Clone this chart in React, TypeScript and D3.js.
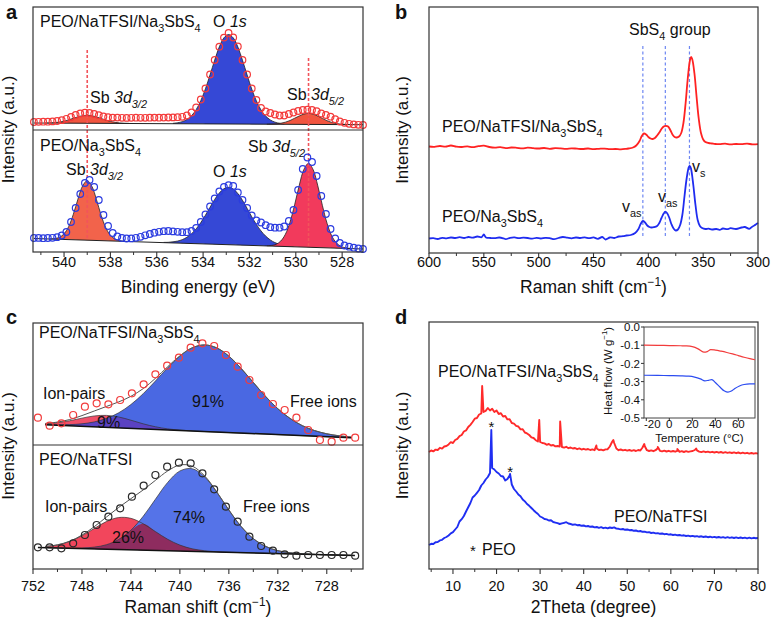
import React from 'react';
import * as d3 from 'd3';

const FONT = "'Liberation Sans', Arial, Helvetica, sans-serif";
type P = [number, number];

// ---------------- Panel a (XPS) ----------------
const aTickLabels = [540, 538, 536, 534, 532, 530, 528];
const aCircleStart = 541.3;
const aCircleStep = -0.2;
const aTopCircles = [
  8.0, 8.2, 8.3, 8.3, 8.6, 9.0, 9.8, 11.2, 13.0, 15.0,
  16.5, 17.3, 17.0, 16.0, 14.8, 13.6, 12.8, 12.4, 12.4, 12.2,
  12.1, 12.2, 12.3, 12.2, 12.2, 12.3, 12.4, 12.3, 12.4, 12.5,
  12.6, 12.8, 13.2, 14.5, 17.5, 22.5, 30.5, 41.5, 55.5, 70.0,
  83.3, 92.4, 97.0, 92.5, 83.5, 70.0, 55.5, 41.5, 30.0, 22.0,
  18.5, 17.0, 15.5, 14.5, 14.5, 16.0, 17.5, 19.0, 20.0, 20.3,
  20.0, 18.8, 16.5, 15.0, 13.3, 10.8, 8.5, 7.2, 6.2, 5.6,
  5.2, 5.0];
const aBotCircles = [
  14.0, 14.1, 13.8, 14.0, 14.2, 14.8, 16.5, 20.0, 30.0, 44.0,
  58.0, 69.0, 72.0, 65.0, 52.0, 37.0, 26.0, 19.0, 15.5, 14.0,
  13.5, 13.6, 14.2, 15.2, 16.7, 18.0, 19.3, 20.2, 20.8, 21.0,
  20.6, 20.2, 19.8, 19.8, 21.0, 24.0, 30.0, 37.5, 45.5, 53.5,
  60.5, 65.0, 66.8, 66.0, 59.5, 52.0, 44.0, 36.5, 31.5, 29.5,
  26.8, 24.8, 24.3, 24.3, 25.5, 31.0, 42.0, 62.0, 83.0, 94.5,
  90.0, 76.0, 56.0, 38.0, 23.0, 13.5, 9.0, 6.5, 5.3, 4.3,
  3.5, 3.0];
const aTopBaseline: P[] = [[541.3, 7.0], [527.1, 5.3]];
const aBotBaseline: P[] = [[541.3, 13.5], [527.1, 3.0]];
// fitted components (height above baseline), 0.2 eV step
const aTopSb32 = [0.1, 0.2, 0.5, 1.1, 2.0, 3.3, 4.9, 6.4, 7.6, 8.0, 7.6, 6.4, 4.9, 3.3, 2.0, 1.1, 0.5, 0.2, 0.1];
const aTopO1s = [0.4, 1.0, 2.1, 4.3, 8.1, 14.2, 23.2, 35.0, 49.1, 63.8, 77.1, 86.2, 89.5, 86.2, 77.1, 63.8, 49.1, 35.0, 23.2, 14.2, 8.1, 4.3, 2.1, 1.0, 0.4];
const aTopSb52 = [0.05, 0.2, 0.4, 1.0, 2.1, 3.8, 6.1, 8.4, 10.3, 11.0, 10.3, 8.4, 6.1, 3.8, 2.1, 1.0, 0.4, 0.2, 0.05];
const aBotSb32 = [0.1, 0.6, 2.0, 5.6, 13.1, 25.4, 40.8, 54.1, 59.5, 54.1, 40.8, 25.4, 13.1, 5.6, 2.0, 0.6, 0.1];
const aBotO1s = [0.25, 0.5, 1.1, 2.0, 3.6, 6.1, 9.8, 14.8, 21.2, 28.7, 36.9, 44.8, 51.4, 55.9, 57.4, 55.9, 51.4, 44.8, 36.9, 28.7, 21.2, 14.8, 9.8, 6.1, 3.6, 2.0, 1.1, 0.5, 0.25];
const aBotSb52 = [0.2, 0.6, 1.9, 5.3, 12.2, 24.5, 42.0, 61.7, 77.7, 83.9, 77.7, 61.7, 42.0, 24.5, 12.2, 5.3, 1.9, 0.6, 0.2];
const aDashLines = [539.0, 529.45];

// ---------------- Panel b (Raman) ----------------
const bTickLabels = [600, 550, 500, 450, 400, 350, 300];
const bRed: P[] = [[600,106.5],[595,106.2],[590,107.0],[585,106.4],[580,107.5],[575,106.3],[570,106.0],[565,106.6],[560,105.8],[555,106.8],[550,107.3],[545,106.0],[540,105.4],[535,105.8],[530,104.9],[525,105.5],[520,105.2],[515,104.6],[510,105.3],[505,104.8],[500,104.5],[495,105.0],[490,104.2],[485,104.8],[480,104.6],[475,104.1],[470,104.7],[465,104.3],[460,104.0],[455,104.5],[450,103.9],[445,104.2],[440,104.4],[435,103.8],[430,104.0],[425,103.6],[420,104.2],[418,104.5],[414,105.5],[411,107.5],[408,112],[406,117],[404,119.5],[402,118.5],[400,116],[398,114.5],[396,114],[394,115],[392,117.5],[390,120.5],[388,124],[386,126.5],[384,127.2],[382,126.5],[380,123],[378,118.5],[376,116],[374,115.5],[372,116.5],[370,120],[368,130],[366,150],[364,175],[362,193],[361,196],[360,194],[358,180],[356,156],[354,134],[352,120],[350,113.5],[348,111],[345,110],[342,109.5],[339,109.0],[335,108.8],[330,109.3],[325,108.6],[320,109.0],[315,108.8],[310,109.3],[305,108.7],[300,108.9]];
const bBlue: P[] = [[600,14.5],[596,14.8],[592,14.0],[588,15.2],[584,14.6],[580,15.5],[576,15.0],[572,15.8],[568,15.0],[564,16.0],[560,15.4],[556,16.5],[552,15.8],[550,18.5],[548,15.5],[544,15.0],[540,14.8],[536,15.5],[532,14.6],[530,13.8],[526,15.2],[522,15.6],[518,14.8],[514,15.3],[510,15.0],[506,14.3],[502,15.2],[498,14.5],[494,15.2],[490,14.9],[486,13.8],[482,15.0],[478,16.0],[474,15.3],[470,14.6],[466,15.5],[462,15.0],[458,15.6],[454,14.8],[450,15.6],[446,14.2],[442,16.0],[439,13.5],[435,15.5],[431,15.0],[427,16.5],[423,16.8],[420,17.5],[416,18.0],[412,20],[409,24],[407,29],[405,32],[403,30.5],[401,27.5],[399,26],[397,25.5],[395,25.8],[392,27],[390,30],[388,35],[386,39.5],[384.5,41.3],[383,40],[381,35.5],[379,29],[377,24.5],[375,22.5],[373,23.5],[371,28],[369,38],[367,57],[365,75],[363,86],[362,87],[361,84],[359,68],[357,48],[355,33],[353,27],[351,25],[348,24],[345,24.3],[342,23.5],[338,24.0],[335,23.2],[332,24.5],[328,23.8],[325,24.8],[320,24.0],[315,25.5],[312,26],[308,24.2],[305,26.5],[302,28.5],[300,30]];
const bDashLines = [405, 384.5, 362.5];

// ---------------- Panel c (Raman fit) ----------------
const cTickLabels = [752, 748, 744, 740, 736, 732, 728];
const cCircleStart = 751.6;
const cCircleStep = -0.96;
const cTopCircles = [27.3, 19.3, 21.7, 30, 38.3, 41.7, 40.7, 45, 51.7, 60.7, 70.7, 79.3, 87.3, 97.3, 101.7, 99, 90, 78.3, 65, 50, 41, 35, 27.3, 15, 5, 3.3, 7.3, 7.3];
const cBotCircles = [21.7, 21.7, 20.7, 25.7, 34, 44, 52.3, 60.7, 72.3, 83.3, 94, 102.3, 106.3, 105.7, 95.7, 79.7, 62.3, 47.3, 32.3, 23, 18.3, 14.7, 13.3, 14, 14, 14, 14, 13.3];
const cGridStart = 751;
const cGridStep = -1;
const cTopFree = [0.23, 0.54, 1.22, 2.54, 4.93, 8.93, 15.1, 23.9, 35.2, 48.4, 62.1, 74.3, 83.1, 86.6, 84.2, 76.4, 64.7, 51.1, 37.7, 25.9, 16.7, 10.0, 5.6, 2.9, 1.4, 0.64];
const cTopIon = [1.1, 2.7, 5.1, 8.2, 10.9, 12.0, 10.9, 8.2, 5.1, 2.7, 1.1, 0.4, 0.1, 0, 0, 0, 0, 0, 0, 0, 0, 0, 0, 0, 0, 0];
const cBotFree = [0, 0.05, 0.19, 0.63, 1.8, 4.5, 10.1, 19.7, 33.8, 51.2, 68.3, 80.1, 82.7, 75.1, 60.1, 42.3, 26.2, 14.3, 6.9, 2.9, 1.1, 0.35, 0.1, 0, 0, 0];
const cBotIon = [1.2, 3.1, 6.9, 12.9, 20.4, 27.7, 32.0, 31.5, 26.4, 18.9, 11.5, 6.0, 2.6, 1.0, 0.3, 0.1, 0, 0, 0, 0, 0, 0, 0, 0, 0, 0];
const cTopBaseline: P[] = [[751, 20.2], [726, 7.3]];
const cBotBaseline: P[] = [[751.6, 21.5], [725.7, 13.5]];

// ---------------- Panel d (XRD + DSC inset) ----------------
const dTickLabels = [10, 20, 30, 40, 50, 60, 70, 80];
const dStart = 4.5;
const dStep = 0.5;
const dRed = [
  117.0, 118.5, 117.6, 119.4, 119.0, 121.2, 120.4, 122.5, 123.0, 124.6,
  126.8, 126.0, 129.0, 130.2, 132.8, 134.0, 137.5, 138.6, 142.0, 144.2,
  147.0, 150.3, 151.0, 154.5, 155.5, 157.0, 158.2, 161.0, 158.5, 160.2,
  157.0, 158.6, 155.0, 155.8, 152.5, 153.0, 149.6, 149.8, 146.0, 145.4,
  143.2, 142.5, 139.6, 139.8, 136.5, 135.6, 134.0, 131.6, 131.0, 128.8,
  127.5, 127.0, 126.0, 125.6, 124.2, 125.0, 123.5, 124.0, 122.6, 123.0,
  122.5, 122.0, 121.4, 122.2, 120.8, 121.5, 120.5, 121.0, 119.8, 120.6,
  119.5, 120.2, 119.4, 120.0, 119.0, 119.6, 118.8, 120.5, 119.0, 119.4,
  118.6, 119.6, 119.8, 122.5, 127.0, 126.0, 120.5, 118.8, 119.5, 118.6,
  119.2, 118.4, 119.0, 118.2, 118.9, 118.0, 119.0, 118.5, 121.5, 123.0,
  118.8, 118.0, 118.6, 117.8, 118.8, 120.8, 118.2, 117.6, 118.4, 117.5,
  118.2, 117.4, 118.0, 117.3, 118.1, 117.2, 117.9, 117.0, 117.8, 117.1,
  117.6, 118.0, 119.0, 118.6, 117.4, 116.9, 117.6, 116.8, 117.4, 116.6,
  117.2, 116.5, 117.1, 116.3, 117.0, 116.2, 116.9, 116.1, 116.7, 116.0,
  116.6, 115.8, 116.5, 115.7, 116.3, 115.6, 116.2, 115.4, 116.0, 115.3,
  115.9, 115.4];
const dRedSpikes: P[] = [[16.7, 183], [29.8, 149], [34.6, 147.5], [42.9, 123.5], [46.8, 129], [53.9, 125], [57.0, 122], [61.5, 120], [65.8, 120.5]];
const dBlue = [
  24.0, 25.2, 25.0, 26.8, 27.0, 28.6, 29.2, 31.0, 32.0, 33.5,
  35.6, 36.8, 39.5, 42.0, 47.5, 49.8, 53.0, 57.5, 61.8, 66.0,
  71.5, 73.5, 76.2, 79.0, 83.5, 86.0, 89.5, 92.0, 96.0, 101.0,
  99.5, 97.0, 95.5, 93.0, 92.5, 88.5, 90.0, 93.5, 84.5, 80.0,
  77.5, 74.5, 72.8, 69.5, 67.6, 65.0, 63.2, 61.0, 58.8, 56.8,
  55.0, 52.5, 51.5, 50.0, 49.6, 48.5, 48.8, 47.0, 46.4, 45.8,
  45.0, 45.6, 46.2, 46.8, 45.5, 45.0, 44.2, 44.6, 43.8, 44.0,
  43.2, 43.5, 42.6, 43.0, 42.2, 42.5, 41.6, 42.0, 41.2, 41.8,
  40.8, 41.4, 40.6, 41.5, 41.0, 41.6, 40.4, 40.2, 39.6, 40.0,
  39.2, 39.5, 38.8, 39.0, 38.2, 38.5, 37.6, 38.0, 37.2, 37.4,
  36.6, 36.9, 36.0, 36.4, 35.6, 35.9, 35.2, 35.5, 34.8, 35.1,
  34.4, 34.7, 34.0, 34.4, 33.7, 34.0, 33.4, 33.7, 33.0, 33.4,
  32.7, 33.1, 32.5, 32.9, 32.2, 32.7, 32.0, 32.5, 31.8, 32.3,
  31.6, 32.1, 31.5, 32.0, 31.4, 31.9, 31.2, 31.8, 31.1, 31.7,
  31.0, 31.6, 30.9, 31.5, 30.8, 31.4, 30.7, 31.3, 30.6, 31.2,
  30.8, 31.0];
const dBlueSpikes: P[] = [[18.8, 139], [23.1, 95]];
const insetXTicks = [-20, 0, 20, 40, 60];
const insetYTicks = [0.0, -0.1, -0.2, -0.3, -0.4, -0.5];
const insetRedT = [-22, -10, 0, 10, 15, 20, 25, 30, 33, 36, 40, 45, 50, 55, 60, 65, 70, 74.5];
const insetRed = [-0.100, -0.101, -0.102, -0.103, -0.104, -0.108, -0.120, -0.138, -0.135, -0.124, -0.127, -0.133, -0.140, -0.148, -0.157, -0.166, -0.174, -0.180];
const insetBlueT = [-22, -10, 0, 10, 17, 22, 27, 31, 34, 37, 40, 44, 48, 51, 54, 57, 61, 65, 70, 74.5];
const insetBlue = [-0.265, -0.266, -0.267, -0.268, -0.270, -0.275, -0.285, -0.296, -0.293, -0.289, -0.305, -0.330, -0.352, -0.358, -0.352, -0.338, -0.324, -0.316, -0.313, -0.313];

// ---------------- helpers ----------------
const grid = (start: number, step: number, vals: number[]): P[] =>
  vals.map((v, i) => [+(start + step * i).toFixed(3), v] as P);
const lin = (b: P[]) => d3.scaleLinear().domain([b[0][0], b[1][0]]).range([b[0][1], b[1][1]]);

type Seg = [string, string?];
function Rich({ x, y, segs, size = 16, anchor = 'start', weight = 'normal' }: { x: number; y: number; segs: Seg[]; size?: number; anchor?: string; weight?: string }) {
  let shift = 0;
  const out = segs.map(([t, k], i) => {
    const isSub = k === 's' || k === 'si';
    const isSup = k === 'sup';
    const target = isSub ? size * 0.3 : isSup ? -size * 0.4 : 0;
    const dy = target - shift;
    shift = target;
    return (
      <tspan key={i} dy={dy} fontSize={isSub || isSup ? size * 0.68 : size} fontStyle={k === 'i' || k === 'si' ? 'italic' : 'normal'}>
        {t}
      </tspan>
    );
  });
  return (
    <text x={x} y={y} fontSize={size} textAnchor={anchor as any} fontFamily={FONT} fontWeight={weight} fill="#111">
      {out}
    </text>
  );
}
const chemFull: Seg[] = [['PEO/NaTFSI/Na'], ['3', 's'], ['SbS'], ['4', 's']];
const chemSb: Seg[] = [['PEO/Na'], ['3', 's'], ['SbS'], ['4', 's']];
const sb32: Seg[] = [['Sb '], ['3d', 'i'], ['3/2', 'si']];
const sb52: Seg[] = [['Sb '], ['3d', 'i'], ['5/2', 'si']];
const o1s: Seg[] = [['O '], ['1s', 'i']];
const cmTitle: Seg[] = [['Raman shift (cm'], ['\u22121', 'sup'], [')']];

function BottomAxis({ x, y0, ticks, minor, labelY, fmt }: { x: d3.ScaleLinear<number, number>; y0: number; ticks: number[]; minor: number[]; labelY: number; fmt?: (v: number) => string }) {
  return (
    <g>
      {minor.map((t) => (
        <line key={'m' + t} x1={x(t)} x2={x(t)} y1={y0} y2={y0 + 3} stroke="#333" strokeWidth={1} />
      ))}
      {ticks.map((t) => (
        <g key={'t' + t}>
          <line x1={x(t)} x2={x(t)} y1={y0} y2={y0 + 5} stroke="#333" strokeWidth={1.1} />
          <text x={x(t)} y={labelY} textAnchor="middle" fontSize={14.5} fontFamily={FONT} fill="#111">
            {fmt ? fmt(t) : String(t)}
          </text>
        </g>
      ))}
    </g>
  );
}

function YTitle({ x, y }: { x: number; y: number }) {
  return (
    <text transform={`translate(${x},${y}) rotate(-90)`} textAnchor="middle" fontSize={17} fontFamily={FONT} fill="#111">
      Intensity (a.u.)
    </text>
  );
}

// ---------------- Panel A ----------------
function PanelA() {
  const x = d3.scaleLinear().domain([541.34, 527.1]).range([33, 363]);
  const yT = d3.scaleLinear().domain([0, 123]).range([130, 7]);
  const yB = d3.scaleLinear().domain([0, 122]).range([252, 130]);
  const bT = lin(aTopBaseline);
  const bB = lin(aBotBaseline);
  const comps = [
    { y: yT, b: bT, pts: grid(540.8, -0.2, aTopSb32), fill: '#f1553f' },
    { y: yT, b: bT, pts: grid(535.3, -0.2, aTopO1s), fill: '#3548d6' },
    { y: yT, b: bT, pts: grid(531.25, -0.2, aTopSb52), fill: '#f1553f' },
    { y: yB, b: bB, pts: grid(540.6, -0.2, aBotSb32), fill: '#f2634b' },
    { y: yB, b: bB, pts: grid(535.7, -0.2, aBotO1s), fill: '#3548d6' },
    { y: yB, b: bB, pts: grid(531.25, -0.2, aBotSb52), fill: '#f23a5c' },
  ];
  const topC = grid(aCircleStart, aCircleStep, aTopCircles);
  const botC = grid(aCircleStart, aCircleStep, aBotCircles);
  const minor = d3.range(528, 542, 1).filter((t) => !aTickLabels.includes(t));
  return (
    <g>
      {comps.map((c, i) => {
        const area = d3.area<P>().x((d) => x(d[0])).y0((d) => c.y(c.b(d[0]))).y1((d) => c.y(c.b(d[0]) + d[1])).curve(d3.curveCatmullRom);
        const line = d3.line<P>().x((d) => x(d[0])).y((d) => c.y(c.b(d[0]) + d[1])).curve(d3.curveCatmullRom);
        return (
          <g key={i}>
            <path d={area(c.pts) || ''} fill={c.fill} />
            <path d={line(c.pts) || ''} fill="none" stroke="#222" strokeWidth={0.8} />
          </g>
        );
      })}
      {[{ b: aTopBaseline, y: yT }, { b: aBotBaseline, y: yB }].map((o, i) => (
        <line key={i} x1={x(o.b[0][0])} x2={x(o.b[1][0])} y1={o.y(o.b[0][1])} y2={o.y(o.b[1][1])} stroke="#222" strokeWidth={1} />
      ))}
      <line x1={x(aDashLines[0])} x2={x(aDashLines[0])} y1={50} y2={238} stroke="#f2545b" strokeWidth={1.6} strokeDasharray="3,2" />
      <line x1={x(aDashLines[1])} x2={x(aDashLines[1])} y1={58} y2={247} stroke="#f2545b" strokeWidth={1.6} strokeDasharray="3,2" />
      {topC.map((d, i) => (
        <circle key={'t' + i} cx={x(d[0])} cy={yT(d[1])} r={3.3} fill="none" stroke="#f43a3a" strokeWidth={1.2} />
      ))}
      {botC.map((d, i) => (
        <circle key={'b' + i} cx={x(d[0])} cy={yB(d[1])} r={3.3} fill="none" stroke="#2b3ce0" strokeWidth={1.2} />
      ))}
      <rect x={33} y={7} width={330} height={245} fill="none" stroke="#333" strokeWidth={1.2} />
      <line x1={33} x2={363} y1={130} y2={130} stroke="#333" strokeWidth={1.2} />
      <BottomAxis x={x} y0={252} ticks={aTickLabels} minor={minor} labelY={267} />
      <text x={198} y={293} textAnchor="middle" fontSize={17.5} fontFamily={FONT} fill="#111">Binding energy (eV)</text>
      <YTitle x={14} y={129.5} />
      <Rich x={40} y={27} segs={chemFull} />
      <Rich x={213} y={27} segs={o1s} />
      <Rich x={90} y={103} segs={sb32} />
      <Rich x={287} y={100} segs={sb52} />
      <Rich x={40} y={151} segs={chemSb} />
      <Rich x={66} y={175} segs={sb32} />
      <Rich x={213} y={177} segs={o1s} />
      <Rich x={248} y={152} segs={sb52} />
      <text x={6} y={19} fontSize={20} fontWeight="bold" fontFamily={FONT} fill="#111">a</text>
    </g>
  );
}

// ---------------- Panel B ----------------
function PanelB() {
  const x = d3.scaleLinear().domain([600, 300]).range([429, 758]);
  const y = d3.scaleLinear().domain([0, 246]).range([253, 7]);
  const line = d3.line<P>().x((d) => x(d[0])).y((d) => y(d[1])).curve(d3.curveCatmullRom);
  const minor = d3.range(325, 600, 50);
  return (
    <g>
      {bDashLines.map((v) => (
        <line key={v} x1={x(v)} x2={x(v)} y1={46} y2={236} stroke="#6d86f2" strokeWidth={1.2} strokeDasharray="3,2.5" />
      ))}
      <path d={line(bRed) || ''} fill="none" stroke="#ff2222" strokeWidth={1.8} />
      <path d={line(bBlue) || ''} fill="none" stroke="#1f2cf0" strokeWidth={1.8} />
      <rect x={429} y={7} width={329} height={246} fill="none" stroke="#333" strokeWidth={1.2} />
      <BottomAxis x={x} y0={253} ticks={bTickLabels} minor={minor} labelY={267} />
      <Rich x={593.5} y={293} segs={cmTitle} size={17.5} anchor="middle" />
      <YTitle x={408} y={130} />
      <Rich x={629} y={35} segs={[['SbS'], ['4', 's'], [' group']]} />
      <Rich x={442} y={132} segs={chemFull} />
      <Rich x={442} y={222} segs={chemSb} />
      <Rich x={622} y={212} segs={[['v'], ['as', 's']]} />
      <Rich x={658} y={202} segs={[['v'], ['as', 's']]} />
      <Rich x={692} y={172} segs={[['v'], ['s', 's']]} />
      <text x={395} y={19} fontSize={20} fontWeight="bold" fontFamily={FONT} fill="#111">b</text>
    </g>
  );
}

// ---------------- Panel C ----------------
function PanelC() {
  const x = d3.scaleLinear().domain([752, 725.04]).range([33, 363]);
  const yT = d3.scaleLinear().domain([0, 122]).range([445, 323]);
  const yB = d3.scaleLinear().domain([0, 124]).range([569, 445]);
  const bT = lin(cTopBaseline);
  const bB = lin(cBotBaseline);
  const subs = [
    { y: yT, b: bT, free: cTopFree, ion: cTopIon, circles: cTopCircles, cStroke: '#f23c3c', red: '#f0506a', blue: '#4a68e2', over: '#5b42c2', base: cTopBaseline },
    { y: yB, b: bB, free: cBotFree, ion: cBotIon, circles: cBotCircles, cStroke: '#2a2a2a', red: '#f2465c', blue: '#5573e8', over: '#8e2c5f', base: cBotBaseline },
  ];
  const minor = d3.range(726, 752, 2).filter((t) => !cTickLabels.includes(t));
  return (
    <g>
      {subs.map((s, k) => {
        const xs = s.free.map((_, i) => cGridStart + cGridStep * i);
        const freeP: P[] = xs.map((xx, i) => [xx, s.free[i]]);
        const ionP: P[] = xs.map((xx, i) => [xx, s.ion[i]]);
        const overP: P[] = xs.map((xx, i) => [xx, Math.min(s.free[i], s.ion[i])]);
        const envP: P[] = xs.map((xx, i) => [xx, s.free[i] + s.ion[i]]);
        const area = d3.area<P>().x((d) => x(d[0])).y0((d) => s.y(s.b(d[0]))).y1((d) => s.y(s.b(d[0]) + d[1])).curve(d3.curveCatmullRom);
        const line = d3.line<P>().x((d) => x(d[0])).y((d) => s.y(s.b(d[0]) + d[1])).curve(d3.curveCatmullRom);
        const circ = grid(cCircleStart, cCircleStep, s.circles);
        return (
          <g key={k}>
            <path d={area(ionP) || ''} fill={s.red} />
            <path d={area(freeP) || ''} fill={s.blue} />
            <path d={area(overP) || ''} fill={s.over} />
            <path d={line(ionP) || ''} fill="none" stroke="#333" strokeWidth={0.7} />
            <path d={line(freeP) || ''} fill="none" stroke="#333" strokeWidth={0.7} />
            <path d={line(envP) || ''} fill="none" stroke="#555" strokeWidth={1} />
            <line x1={x(s.base[0][0])} x2={x(s.base[1][0])} y1={s.y(s.base[0][1])} y2={s.y(s.base[1][1])} stroke="#111" strokeWidth={1.5} />
            {circ.map((d, i) => (
              <circle key={i} cx={x(d[0])} cy={s.y(d[1])} r={3.5} fill="none" stroke={s.cStroke} strokeWidth={1.2} />
            ))}
          </g>
        );
      })}
      <rect x={33} y={323} width={330} height={246} fill="none" stroke="#333" strokeWidth={1.2} />
      <line x1={33} x2={363} y1={445} y2={445} stroke="#333" strokeWidth={1.2} />
      <BottomAxis x={x} y0={569} ticks={cTickLabels} minor={minor} labelY={591} />
      <Rich x={198} y={613} segs={cmTitle} size={17.5} anchor="middle" />
      <YTitle x={14} y={446} />
      <Rich x={39} y={338} segs={chemFull} />
      <Rich x={43} y={399} segs={[['Ion-pairs']]} />
      <Rich x={192} y={407} segs={[['91%']]} />
      <Rich x={97} y={428} segs={[['9%']]} />
      <Rich x={290} y={407} segs={[['Free ions']]} />
      <Rich x={39} y={465} segs={[['PEO/NaTFSI']]} />
      <Rich x={45} y={512} segs={[['Ion-pairs']]} />
      <Rich x={173} y={523} segs={[['74%']]} />
      <Rich x={112} y={543} segs={[['26%']]} />
      <Rich x={243} y={512} segs={[['Free ions']]} />
      <text x={6} y={324} fontSize={20} fontWeight="bold" fontFamily={FONT} fill="#111">c</text>
    </g>
  );
}

// ---------------- Panel D ----------------
function PanelD() {
  const x = d3.scaleLinear().domain([4.5, 80]).range([429, 758]);
  const y = d3.scaleLinear().domain([0, 247]).range([569, 322]);
  const line = d3.line<P>().x((d) => x(d[0])).y((d) => y(d[1]));
  const red = [...grid(dStart, dStep, dRed), ...dRedSpikes].sort((a, b) => a[0] - b[0]);
  const blue = [...grid(dStart, dStep, dBlue), ...dBlueSpikes].sort((a, b) => a[0] - b[0]);
  const minor = d3.range(5, 80, 10);
  const ix = d3.scaleLinear().domain([-22, 74.5]).range([644, 755]);
  const iy = d3.scaleLinear().domain([-0.5, 0]).range([418, 327]);
  const iline = d3.line<P>().x((d) => ix(d[0])).y((d) => iy(d[1])).curve(d3.curveMonotoneX);
  const iRed: P[] = insetRedT.map((t, i) => [t, insetRed[i]]);
  const iBlue: P[] = insetBlueT.map((t, i) => [t, insetBlue[i]]);
  return (
    <g>
      <path d={line(red) || ''} fill="none" stroke="#ff2a2a" strokeWidth={1.9} strokeLinejoin="round" />
      <path d={line(blue) || ''} fill="none" stroke="#1f2ef2" strokeWidth={1.9} strokeLinejoin="round" />
      <rect x={429} y={322} width={329} height={247} fill="none" stroke="#333" strokeWidth={1.2} />
      <BottomAxis x={x} y0={569} ticks={dTickLabels} minor={minor} labelY={591} />
      <text x={593.5} y={613} textAnchor="middle" fontSize={17.5} fontFamily={FONT} fill="#111">2Theta (degree)</text>
      <YTitle x={408} y={445.5} />
      <Rich x={438} y={377} segs={chemFull} />
      <Rich x={614} y={522} segs={[['PEO/NaTFSI']]} />
      <text x={x(18.8)} y={432} textAnchor="middle" fontSize={15} fontFamily={FONT} fill="#111">*</text>
      <text x={x(23.1)} y={477} textAnchor="middle" fontSize={15} fontFamily={FONT} fill="#111">*</text>
      <text x={470} y={556} fontSize={15} fontFamily={FONT} fill="#111">*</text>
      <Rich x={482} y={555} segs={[['PEO']]} />
      {/* inset */}
      <rect x={644} y={327} width={111} height={91} fill="white" stroke="#444" strokeWidth={1} />
      <path d={iline(iRed) || ''} fill="none" stroke="#f23c3c" strokeWidth={1.2} />
      <path d={iline(iBlue) || ''} fill="none" stroke="#2c4cf0" strokeWidth={1.2} />
      {insetXTicks.map((t) => (
        <g key={t}>
          <line x1={ix(t)} x2={ix(t)} y1={418} y2={421} stroke="#333" />
          <text x={t === -20 ? ix(t) + 6 : ix(t)} y={427.5} textAnchor="middle" fontSize={11.5} fontFamily={FONT} fill="#111">{String(t)}</text>
        </g>
      ))}
      {insetYTicks.map((t) => (
        <g key={t}>
          <line x1={641} x2={644} y1={iy(t)} y2={iy(t)} stroke="#333" />
          <text x={640} y={iy(t) + 4.2} textAnchor="end" fontSize={11.5} fontFamily={FONT} fill="#111">{t.toFixed(1)}</text>
        </g>
      ))}
      <text x={699.5} y={442} textAnchor="middle" fontSize={11.5} fontFamily={FONT} fill="#111">Temperature (°C)</text>
      <g transform="translate(612,371) rotate(-90)">
        <Rich x={0} y={0} size={11.5} anchor="middle" segs={[['Heat flow (W g'], ['\u22121', 'sup'], [')']]} />
      </g>
      <text x={395} y={324} fontSize={20} fontWeight="bold" fontFamily={FONT} fill="#111">d</text>
    </g>
  );
}

export default function App() {
  return (
    <svg width={774} height={619} viewBox="0 0 774 619" style={{ position: 'absolute', left: 0, top: 0, background: 'white' }}>
      <rect x={0} y={0} width={774} height={619} fill="white" />
      <PanelA />
      <PanelB />
      <PanelC />
      <PanelD />
    </svg>
  );
}
